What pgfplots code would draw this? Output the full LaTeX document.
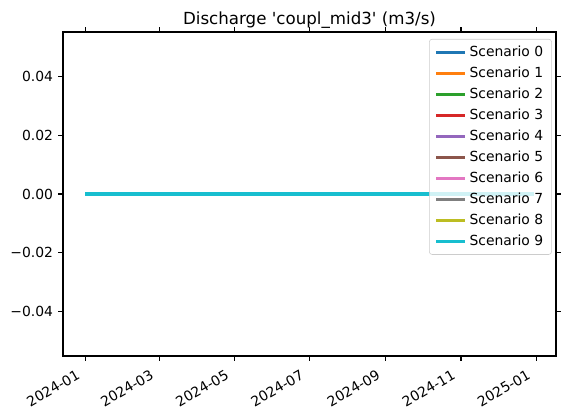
\documentclass[border=0pt]{standalone}
\usepackage{pgfplots}
\pgfplotsset{compat=1.18}
\usepackage{fontspec}
\setmainfont{DejaVu Sans}
\newfontfamily\plainfont{DejaVu Sans}
\definecolor{C0}{HTML}{1F77B4}
\definecolor{C1}{HTML}{FF7F0E}
\definecolor{C2}{HTML}{2CA02C}
\definecolor{C3}{HTML}{D62728}
\definecolor{C4}{HTML}{9467BD}
\definecolor{C5}{HTML}{8C564B}
\definecolor{C6}{HTML}{E377C2}
\definecolor{C7}{HTML}{7F7F7F}
\definecolor{C8}{HTML}{BCBD22}
\definecolor{C9}{HTML}{17BECF}
\begin{document}
\begin{tikzpicture}[x=1pt,y=1pt]
\path[use as bounding box] (0,0) rectangle (408.24,301.68);
\begin{axis}[
  at={(45.36pt,45.36pt)}, anchor=south west,
  scale only axis, width=354.96pt, height=233.28pt,
  xmin=-18.2, xmax=382.2, ymin=-0.055, ymax=0.055,
  scaled y ticks=false,
  axis line style={line width=0.8pt},
  tick align=outside, major tick length=3.5pt,
  tick style={line width=0.8pt, black},
  xtick={0,60,121,182,244,305,366},
  xticklabels={2024-01,2024-03,2024-05,2024-07,2024-09,2024-11,2025-01},
  xticklabel style={rotate=30, anchor=north east, inner sep=0pt, xshift=-9pt, yshift=-1.5pt, font=\fontsize{10}{12}\selectfont},
  ytick={-0.04,-0.02,0,0.02,0.04},
  yticklabels={−0.04,−0.02,0.00,0.02,0.04},
  yticklabel style={anchor=east, inner sep=0pt, xshift=-3.5pt, font=\fontsize{10}{12}\selectfont},
  title={Discharge 'coupl\_mid3' (m3/s)},
  title style={at={(0.5,1)}, anchor=south, inner sep=0pt, yshift=-3.4pt, font=\plainfont\fontsize{12}{14}\selectfont},
  legend style={at={(1,1)}, anchor=north east, xshift=-3pt, yshift=-5pt,
    draw=black!20, rounded corners=2pt, fill=white, fill opacity=0.8, text opacity=1,
    font=\fontsize{10}{12}\selectfont, row sep=2pt, inner xsep=4pt, inner ysep=3pt},
  legend cell align=left,
  legend image code/.code={\draw[#1, line width=2pt] (0pt,0pt) -- (21pt,0pt);},
  every axis plot post/.append style={line width=2.2pt, line cap=butt},
]
\addplot[C0] coordinates {(0,0) (182,0) (364,0)};
\addlegendentry{Scenario 0}
\addplot[C1] coordinates {(0,0) (182,0) (364,0)};
\addlegendentry{Scenario 1}
\addplot[C2] coordinates {(0,0) (182,0) (364,0)};
\addlegendentry{Scenario 2}
\addplot[C3] coordinates {(0,0) (182,0) (364,0)};
\addlegendentry{Scenario 3}
\addplot[C4] coordinates {(0,0) (182,0) (364,0)};
\addlegendentry{Scenario 4}
\addplot[C5] coordinates {(0,0) (182,0) (364,0)};
\addlegendentry{Scenario 5}
\addplot[C6] coordinates {(0,0) (182,0) (364,0)};
\addlegendentry{Scenario 6}
\addplot[C7] coordinates {(0,0) (182,0) (364,0)};
\addlegendentry{Scenario 7}
\addplot[C8] coordinates {(0,0) (182,0) (364,0)};
\addlegendentry{Scenario 8}
\addplot[C9] coordinates {(0,0) (182,0) (364,0)};
\addlegendentry{Scenario 9}
\end{axis}
\end{tikzpicture}
\end{document}
